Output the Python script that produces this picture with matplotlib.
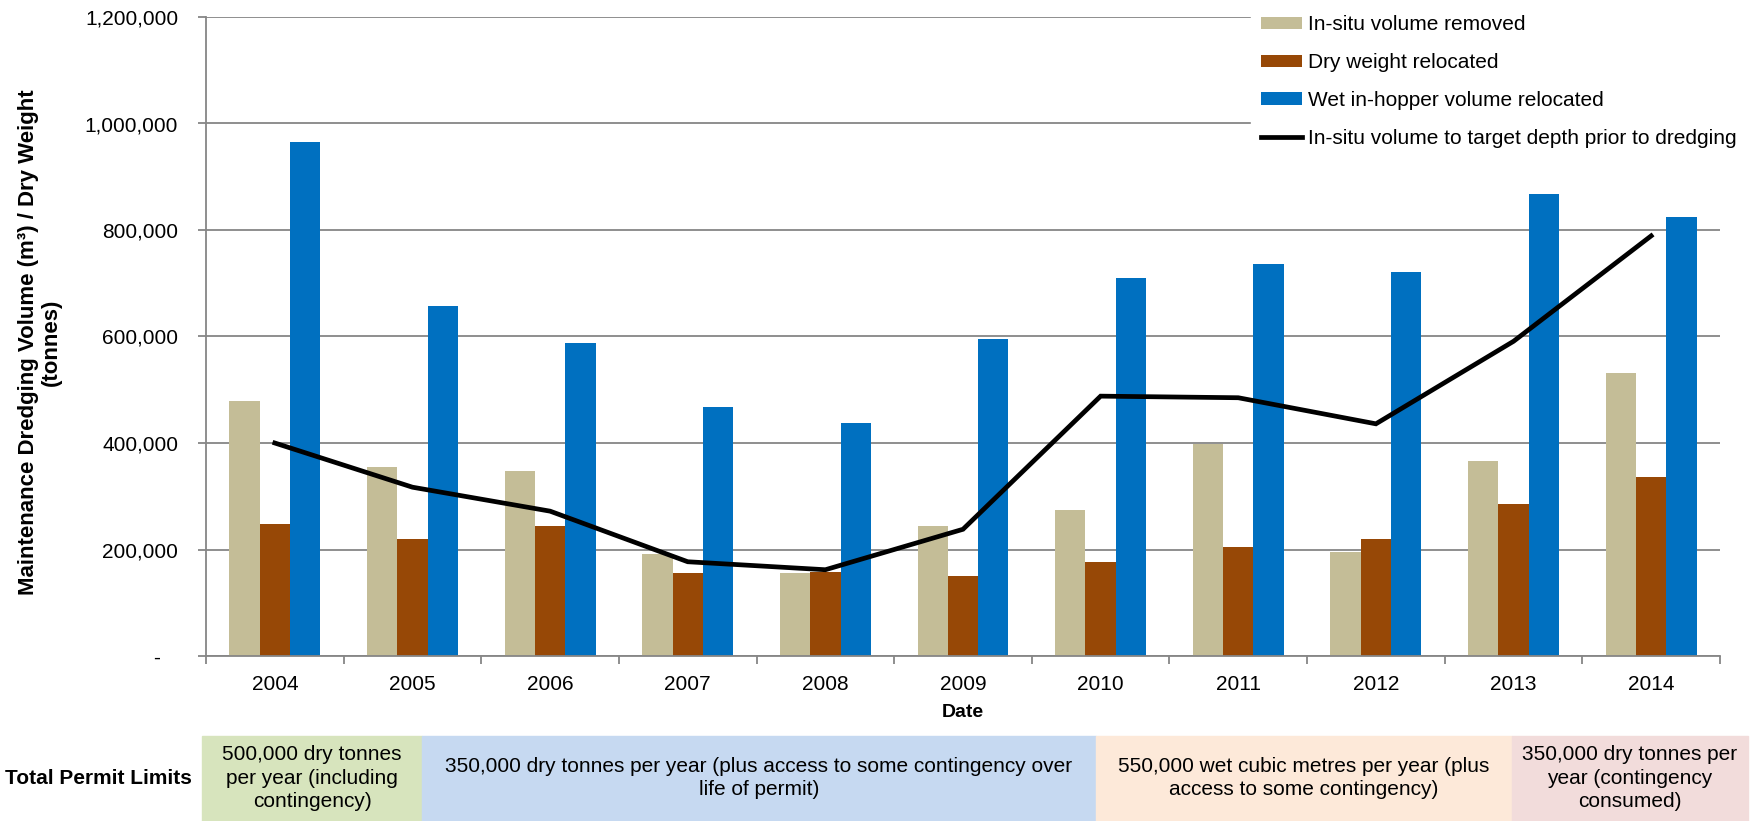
import matplotlib
matplotlib.use("Agg")
import matplotlib.pyplot as plt
import numpy as np
from matplotlib.patches import Rectangle
from matplotlib.ticker import FuncFormatter, FixedLocator

plt.rcParams['font.family'] = ['Liberation Sans', 'DejaVu Sans']

years = ['2004', '2005', '2006', '2007', '2008', '2009', '2010', '2011', '2012', '2013', '2014']
insitu_removed = [479000, 355000, 348000, 192000, 156000, 244000, 275000, 398000, 196000, 367000, 532000]
dry_weight = [248000, 220000, 244000, 156000, 157000, 150000, 177000, 205000, 220000, 285000, 337000]
wet_hopper = [965000, 657000, 587000, 467000, 437000, 596000, 709000, 737000, 721000, 868000, 824000]
insitu_target = [400000, 317000, 272000, 177000, 162000, 238000, 488000, 485000, 436000, 591000, 789000]

series_labels = ['In-situ volume removed', 'Dry weight relocated', 'Wet in-hopper volume relocated',
                 'In-situ volume to target depth prior to dredging']
colors = ['#c4bd97', '#974806', '#0070c0']

permit_label = 'Total Permit Limits'
permit_texts = ['500,000 dry tonnes\nper year (including\ncontingency)',
                '350,000 dry tonnes per year (plus access to some contingency over\nlife of permit)',
                '550,000 wet cubic metres per year (plus\naccess to some contingency)',
                '350,000 dry tonnes per\nyear (contingency\nconsumed)']
permit_colors = ['#d7e4bd', '#c6d9f1', '#fde9d9', '#f2dcdb']

W, H = 1762, 821
fig = plt.figure(figsize=(W / 100, H / 100), dpi=100)
ax = fig.add_axes([206 / W, 1 - 656 / H, (1720 - 206) / W, (656 - 17) / H])

x = np.arange(len(years))
bw = 0.22
h1 = ax.bar(x - bw, insitu_removed, bw, color=colors[0], label=series_labels[0], zorder=2)
h2 = ax.bar(x, dry_weight, bw, color=colors[1], label=series_labels[1], zorder=2)
h3 = ax.bar(x + bw, wet_hopper, bw, color=colors[2], label=series_labels[2], zorder=2)
h4, = ax.plot(x, insitu_target, color='black', lw=3.4, label=series_labels[3], zorder=3,
              solid_joinstyle='miter')

grid_c = '#868686'
ax.set_xlim(-0.5, len(years) - 0.5)
ax.set_ylim(0, 1200000)
ax.set_yticks(np.arange(0, 1200001, 200000))
ax.yaxis.set_major_formatter(FuncFormatter(lambda v, p: '-   ' if v == 0 else f'{int(v):,}'))
ax.grid(axis='y', color=grid_c, lw=1.3, zorder=0)
ax.set_axisbelow(True)
for s in ['top', 'right']:
    ax.spines[s].set_visible(False)
for s in ['left', 'bottom']:
    ax.spines[s].set_color(grid_c)
    ax.spines[s].set_linewidth(1.3)

ax.set_xticks(x)
ax.set_xticklabels(years)
ax.xaxis.set_minor_locator(FixedLocator(np.arange(-0.5, len(years), 1.0)))
ax.tick_params(axis='x', which='major', length=0, pad=14, labelsize=15)
ax.tick_params(axis='x', which='minor', length=6, width=1.3, color=grid_c)
ax.tick_params(axis='y', length=6, width=1.3, color=grid_c, pad=14, labelsize=15)

ax.set_xlabel('Date', fontsize=14, fontweight='bold', labelpad=7)

fig.text(40 / W, 1 - 342 / H, 'Maintenance Dredging Volume (m³) / Dry Weight\n(tonnes)',
         rotation=90, ha='center', va='center', fontsize=16, fontweight='bold',
         multialignment='center', linespacing=1.15)

leg = ax.legend([h1, h2, h3, h4], series_labels, loc='upper left',
                bbox_to_anchor=(1251 / W, 1 - 5 / H), bbox_transform=fig.transFigure,
                frameon=True, fancybox=False, edgecolor='white', facecolor='white', framealpha=1,
                fontsize=15, handlelength=1.97, handleheight=0.53, handletextpad=0.29,
                labelspacing=0.9, borderpad=0.5, borderaxespad=0)
leg.set_zorder(10)

# permit limits band
cells = [(202, 422), (422, 1096), (1096, 1512), (1512, 1748)]
narrow = ['Liberation Sans Narrow', 'Liberation Sans', 'DejaVu Sans']
for (x0, x1), txt, c in zip(cells, permit_texts, permit_colors):
    fig.patches.append(Rectangle((x0 / W, 0), (x1 - x0) / W, (821 - 736) / H,
                                 transform=fig.transFigure, color=c, zorder=0))
    fig.text((x0 + x1) / 2 / W, 1 - 778 / H, txt, ha='center', va='center',
             fontsize=15, family=narrow, multialignment='center', linespacing=1.3)
fig.text(98 / W, 1 - 778 / H, permit_label, ha='center', va='center', fontsize=15,
         fontweight='bold', family=narrow)

fig.savefig('out.png', dpi=100)
